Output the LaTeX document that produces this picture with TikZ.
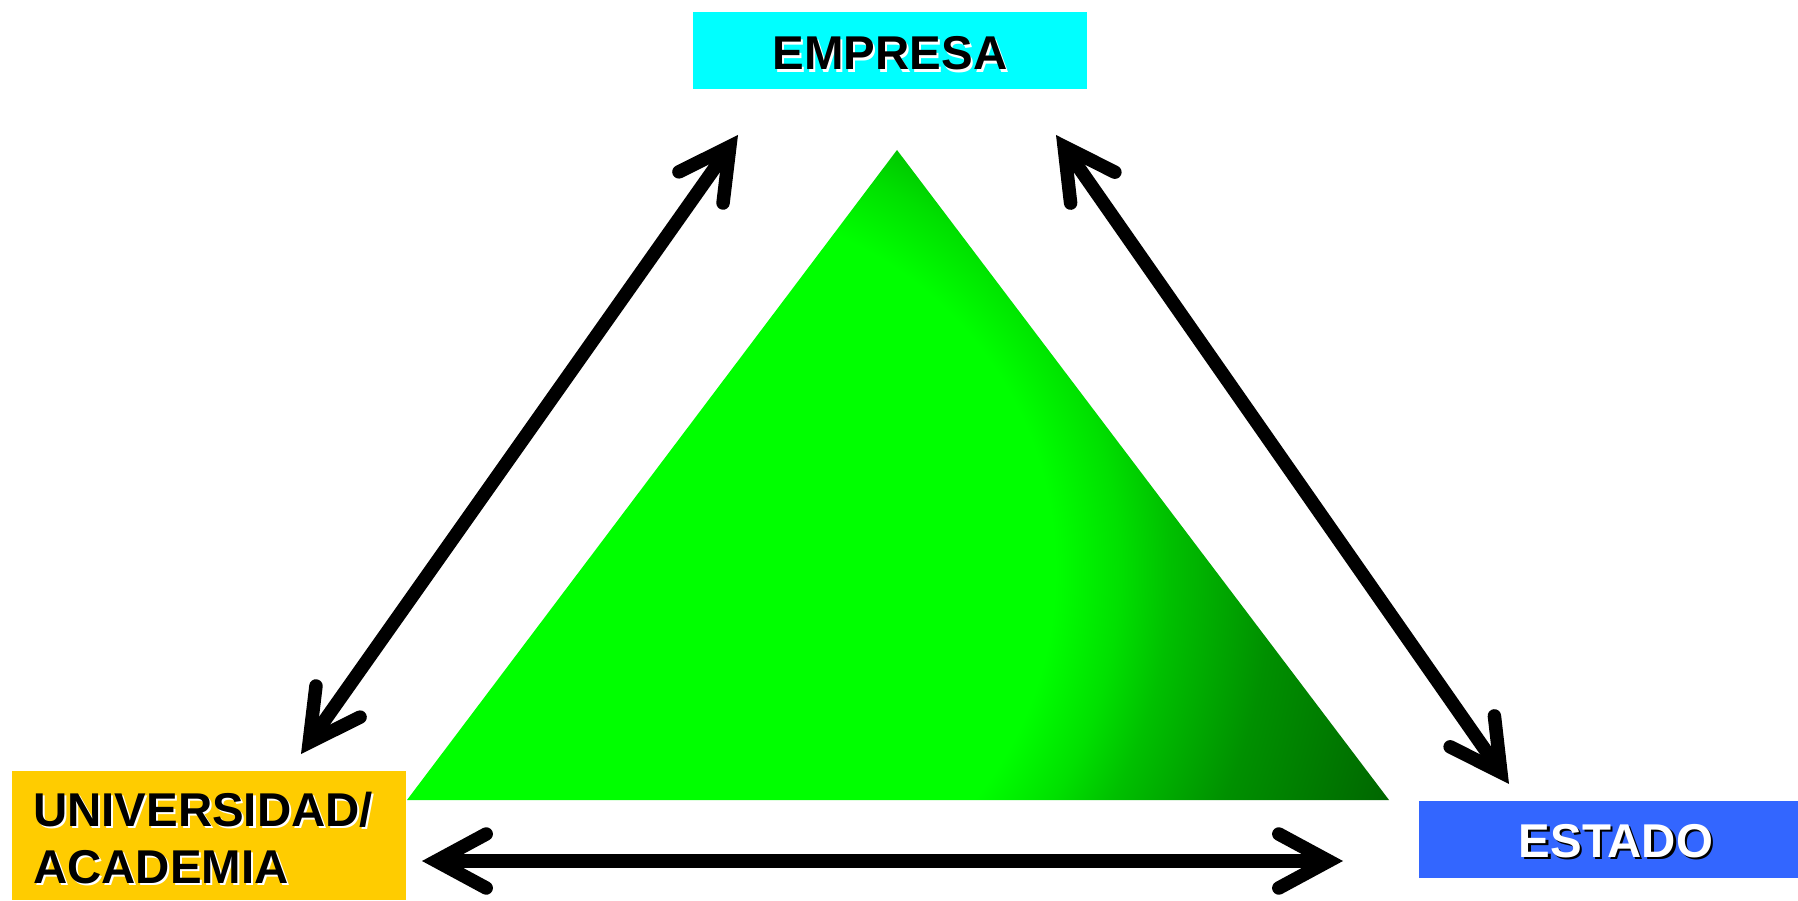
\documentclass[tikz,border=0pt]{standalone}
\usepackage{fontspec}
\setmainfont{Liberation Sans}
\usepackage{xcolor}
\usepackage{tikz}
\usetikzlibrary{arrows.meta}
\definecolor{empcyan}{HTML}{00FFFF}
\definecolor{unigold}{HTML}{FFCC00}
\definecolor{estblue}{HTML}{3366FF}
\definecolor{trilime}{HTML}{00FF00}
\definecolor{trilight}{HTML}{00E000}
\definecolor{trimid}{HTML}{00C000}
\definecolor{trideep}{HTML}{009000}
\definecolor{tridark}{HTML}{006600}
\pgfdeclareradialshading{triglow}{\pgfpoint{0bp}{0bp}}{color(0bp)=(trilime); color(12.25bp)=(trilime); color(14.4bp)=(trilight); color(16.1bp)=(trimid); color(19.5bp)=(trideep); color(24.7bp)=(tridark); color(50bp)=(tridark)}
\newcommand{\shadowtxt}[2]{\makebox[0pt][l]{\hspace{1.2pt}\raisebox{-1.2pt}{\color{#2}#1}}#1}

\begin{document}
\begin{tikzpicture}[x=0.02cm,y=-0.02cm,
  >={Straight Barb[length=1.0cm,width=1.08cm,line cap=round,line join=miter]},
  box/.style={minimum width=7.88cm,minimum height=1.54cm,inner sep=0pt,font=\fontsize{27pt}{32.4pt}\selectfont\bfseries},
  link/.style={<->,line width=0.27cm}]
\useasboundingbox (0,0) rectangle (1798,901);
\clip (0,0) rectangle (1798,901);
% triangle
\coordinate (apex) at (897,150);
\coordinate (bl) at (407,800);
\coordinate (br) at (1389,800);
\begin{scope}
\clip (apex)--(bl)--(br)--cycle;
\shade[shading=triglow] (690,570) circle[radius=745];
\end{scope}
% boxes
\node[box,fill=empcyan,text height=0.78cm,text depth=0pt] (emp) at (890,50.5) {\shadowtxt{EMPRESA}{white}};
\node[box,fill=unigold,minimum height=2.58cm,text width=7.04cm,inner xsep=0.42cm,align=left] (uni) at (209,835.5)
  {\rule{0pt}{0.84cm}\shadowtxt{UNIVERSIDAD/}{white}\\\shadowtxt{ACADEMIA}{white}};
\node[box,fill=estblue,text=white,text height=0.73cm,text depth=0pt] (est) at (1616,839.5) {\shadowtxt{ESTADO}{black}};
% arrows
\coordinate (emp-l) at (738,135);
\coordinate (uni-t) at (301,754);
\coordinate (emp-r) at (1056,135);
\coordinate (est-t) at (1509,784);
\coordinate (uni-r) at (422,861);
\coordinate (est-l) at (1343,861);
\draw[link] (uni-t)--(emp-l);
\draw[link] (emp-r)--(est-t);
\draw[link] (uni-r)--(est-l);
\end{tikzpicture}
\end{document}
